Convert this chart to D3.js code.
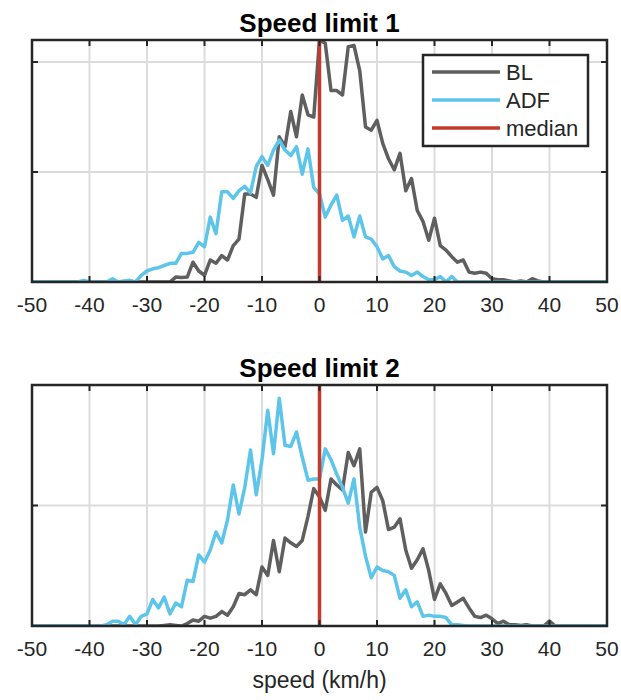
<!DOCTYPE html>
<html>
<head>
<meta charset="utf-8">
<script src="https://cdn.jsdelivr.net/npm/d3@7"></script>
<style>
  body { margin: 0; background: #fff; }
  svg text { font-family: "Liberation Sans", Arial, sans-serif; fill: #262626; }
</style>
</head>
<body>
<div id="chart"></div>
<script>
// speed bins (km/h), one per 1 km/h from -50 to 50
var speeds = d3.range(-50, 51);

// densities (grid units, 0..2.2 top / 0..2 bottom)
var bl1 = [0,0,0,0,0,0,0,0,0,0, 0,0,0,0,0,0,0,0,0,0,
  0,0,0,0,0,0.045,0.04,0.045,0.18,0.1, 0.06,0.2,0.17,0.24,0.2,0.33,0.39,0.8,0.8,0.77,
  1.06,0.93,0.79,1.32,1.23,1.55,1.32,1.7,1.52,1.5,
  2.2,
  2.17,1.74,1.74,1.7,2.14,2.15,1.92,1.41,1.38,1.47,
  1.26,1.12,1.02,1.17,0.83,0.94,0.65,0.55,0.38,0.58,
  0.33,0.29,0.23,0.18,0.2,0.09,0.08,0.09,0.08,0.03,
  0.02,0.02,0.01,0,0.01,0,0.03,0.01,0,0, 0,0,0,0,0,0,0,0,0,0];

var adf1 = [0,0,0,0,0,0,0,0,0,0.015, 0,0,0,0,0.03,0,0.01,0.015,0,0.06,
  0.1,0.12,0.13,0.15,0.17,0.17,0.26,0.26,0.27,0.36, 0.32,0.59,0.44,0.82,0.82,0.76,0.83,0.87,0.81,1.05,
  1.14,1.06,1.2,1.29,1.2,1.15,1.23,0.98,1.21,0.86,
  0.8,
  0.59,0.7,0.79,0.56,0.6,0.41,0.6,0.41,0.39,0.32,
  0.21,0.24,0.14,0.1,0.09,0.06,0.09,0.05,0.02,0.02,
  0.05,0,0.05,0,0,0,0,0,0,0,
  0,0,0,0,0,0,0,0,0,0, 0,0,0,0,0,0,0,0,0,0];

var bl2 = [0,0,0,0,0,0,0,0,0,0, 0,0,0,0,0,0,0,0,0,0,
  0,0,0,0.005,0.01,0.005,0,0.02,0.05,0.04, 0.08,0.065,0.08,0.12,0.09,0.16,0.27,0.26,0.3,0.26,
  0.49,0.42,0.71,0.45,0.73,0.69,0.66,0.71,0.91,1.14,
  1.07,
  0.96,1.22,1.17,1.13,1.44,1.33,1.47,0.78,1.11,1.15,
  1.04,0.8,0.82,0.89,0.63,0.48,0.55,0.64,0.46,0.22,
  0.35,0.27,0.17,0.2,0.23,0.15,0.08,0.07,0.09,0.06,
  0.02,0.04,0.01,0.01,0.005,0.01,0,0,0,0.04, 0,0,0,0,0,0,0,0,0,0];

var adf2 = [0,0,0,0,0,0,0,0,0,0, 0,0,0,0.01,0.04,0.04,0.01,0.08,0.01,0.08,
  0.1,0.22,0.15,0.24,0.1,0.19,0.16,0.38,0.37,0.59, 0.53,0.63,0.78,0.69,0.88,1.17,0.93,1.15,1.46,1.09,
  1.38,1.79,1.43,1.89,1.5,1.49,1.61,1.4,1.21,1.22,
  1.22,
  1.47,1.38,1.26,1.15,1.02,1.22,0.82,0.58,0.4,0.49,
  0.46,0.45,0.42,0.23,0.3,0.16,0.2,0.08,0.09,0.08,
  0.08,0.07,0.01,0.01,0.005,0,0,0,0,0,
  0,0,0,0,0,0,0,0,0,0, 0,0,0,0,0,0,0,0,0,0];

var medianSpeed = 0;
var xTicks = [-50, -40, -30, -20, -10, 0, 10, 20, 30, 40, 50];
var seriesNames = ["BL", "ADF", "median"];
var colors = { BL: "#5f5f5f", ADF: "#5ec5ea", median: "#c23b2c" };

var W = 621, H = 700;
var svg = d3.select("#chart").append("svg")
    .attr("width", W)
    .attr("height", H);

var panels = [
  { title: "Speed limit 1", top: 40, bottom: 282, ymax: 2.2, bl: bl1, adf: adf1, legend: true, titleY: 32 },
  { title: "Speed limit 2", top: 385, bottom: 626, ymax: 2.0, bl: bl2, adf: adf2, legend: false, titleY: 377 }
];

var left = 32, right = 607;
var x = d3.scaleLinear().domain([-50, 50]).range([left, right]);

panels.forEach(function(p) {
  var y = d3.scaleLinear().domain([0, p.ymax]).range([p.bottom, p.top]);
  var yTicks = d3.range(0, Math.floor(p.ymax) + 1);
  var g = svg.append("g");
  var clipId = "clip" + p.top;

  g.append("clipPath").attr("id", clipId)
    .append("rect")
      .attr("x", left).attr("y", p.top)
      .attr("width", right - left).attr("height", p.bottom - p.top);

  // grid
  g.append("g").selectAll("line.vx")
    .data(xTicks.slice(1, -1))
    .enter().append("line")
      .attr("x1", function(d) { return x(d); })
      .attr("x2", function(d) { return x(d); })
      .attr("y1", p.top).attr("y2", p.bottom)
      .attr("stroke", "#dcdcdc").attr("stroke-width", 2);
  g.append("g").selectAll("line.hy")
    .data(yTicks.filter(function(d) { return d > 0 && d < p.ymax; }))
    .enter().append("line")
      .attr("x1", left).attr("x2", right)
      .attr("y1", function(d) { return y(d); })
      .attr("y2", function(d) { return y(d); })
      .attr("stroke", "#dcdcdc").attr("stroke-width", 2);

  // series
  var line = d3.line()
      .x(function(d, i) { return x(speeds[i]); })
      .y(function(d) { return y(d); });

  var plot = g.append("g").attr("clip-path", "url(#" + clipId + ")");
  plot.append("path").datum(p.bl)
    .attr("d", line).attr("fill", "none")
    .attr("stroke", colors.BL).attr("stroke-width", 3.5).attr("stroke-linejoin", "round");
  plot.append("path").datum(p.adf)
    .attr("d", line).attr("fill", "none")
    .attr("stroke", colors.ADF).attr("stroke-width", 3.5).attr("stroke-linejoin", "round");
  plot.append("line")
    .attr("x1", x(medianSpeed)).attr("x2", x(medianSpeed))
    .attr("y1", p.top).attr("y2", p.bottom)
    .attr("stroke", colors.median).attr("stroke-width", 3.5);

  // frame + ticks (matlab-style inward, on all four sides)
  g.append("rect")
    .attr("x", left).attr("y", p.top)
    .attr("width", right - left).attr("height", p.bottom - p.top)
    .attr("fill", "none").attr("stroke", "#262626").attr("stroke-width", 2.5);

  var tl = 6;
  var tk = g.append("g").attr("stroke", "#262626").attr("stroke-width", 2);
  xTicks.slice(1, -1).forEach(function(d) {
    tk.append("line").attr("x1", x(d)).attr("x2", x(d)).attr("y1", p.bottom).attr("y2", p.bottom - tl);
    tk.append("line").attr("x1", x(d)).attr("x2", x(d)).attr("y1", p.top).attr("y2", p.top + tl);
  });
  yTicks.filter(function(d) { return d > 0 && d < p.ymax; }).forEach(function(d) {
    tk.append("line").attr("x1", left).attr("x2", left + tl).attr("y1", y(d)).attr("y2", y(d));
    tk.append("line").attr("x1", right).attr("x2", right - tl).attr("y1", y(d)).attr("y2", y(d));
  });

  // tick labels
  g.append("g").selectAll("text")
    .data(xTicks)
    .enter().append("text")
      .attr("x", function(d) { return x(d); })
      .attr("y", p.bottom + 30)
      .attr("text-anchor", "middle")
      .style("font-size", "21px")
      .text(function(d) { return d; });

  g.append("text")
    .attr("x", (left + right) / 2)
    .attr("y", p.titleY)
    .attr("text-anchor", "middle")
    .style("font-size", "26px")
    .style("font-weight", "bold")
    .style("fill", "#000")
    .text(p.title);

  if (p.legend) {
    var lg = g.append("g");
    lg.append("rect")
      .attr("x", 423).attr("y", 55).attr("width", 165).attr("height", 91)
      .attr("fill", "#fff").attr("stroke", "#262626").attr("stroke-width", 2.5);
    seriesNames.forEach(function(name, i) {
      var ly = 72 + i * 28;
      lg.append("line")
        .attr("x1", 432).attr("x2", 500).attr("y1", ly).attr("y2", ly)
        .attr("stroke", colors[name]).attr("stroke-width", 3.5);
      lg.append("text")
        .attr("x", 506).attr("y", ly + 8)
        .style("font-size", "22px")
        .text(name);
    });
  }
});

svg.append("text")
  .attr("x", (left + right) / 2)
  .attr("y", 688)
  .attr("text-anchor", "middle")
  .style("font-size", "23px")
  .text("speed (km/h)");
</script>
</body>
</html>
